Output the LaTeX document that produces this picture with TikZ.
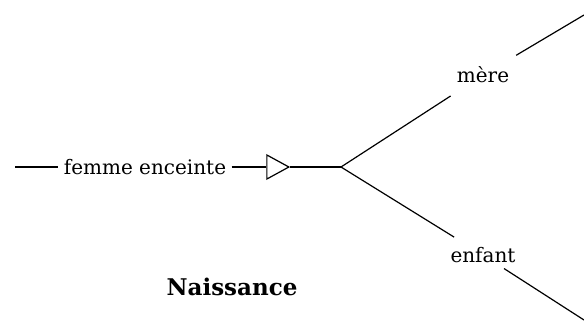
\documentclass[tikz,border=0pt]{standalone}
\usepackage{fontspec}
\setmainfont{DejaVu Serif}
\usetikzlibrary{positioning,shapes.geometric}

\begin{document}
\begin{tikzpicture}[x=1pt,y=-1pt,line width=1.2pt,
    lbl/.style={font=\fontsize{20}{24}\selectfont,inner xsep=5pt},
    gap/.style={circle,inner sep=0pt,font=\fontsize{20}{24}\selectfont}]
    \useasboundingbox (0,0) rectangle (584,327);
    % Input line
    \coordinate (in) at (15,167);
    \node[lbl] (fe) at (145,167) {femme enceinte};
    \node[draw,isosceles triangle,isosceles triangle stretches,inner sep=0pt,
      minimum width=24pt,minimum height=22pt] (tri) at (274,167) {};
    \coordinate (fork) at (341,167);
    \draw (in) -- (fe);
    \draw (fe) -- (tri);
    \draw (tri) -- (fork);
    % Branches
    \node[gap,minimum size=76pt] (mere) at (483,75) {mère};
    \node[gap,minimum size=56pt] (enf) at (483,255) {enfant};
    \coordinate (up) at (584,15);
    \coordinate (down) at (584,320);
    \draw (fork) -- (mere);
    \draw (mere) -- (up);
    \draw (fork) -- (enf);
    \draw[shorten <=-9pt] (enf) -- (down);
    \node[font=\fontsize{23}{27}\selectfont\bfseries] (title) at (232,287) {Naissance};
  \end{tikzpicture}
\end{document}
